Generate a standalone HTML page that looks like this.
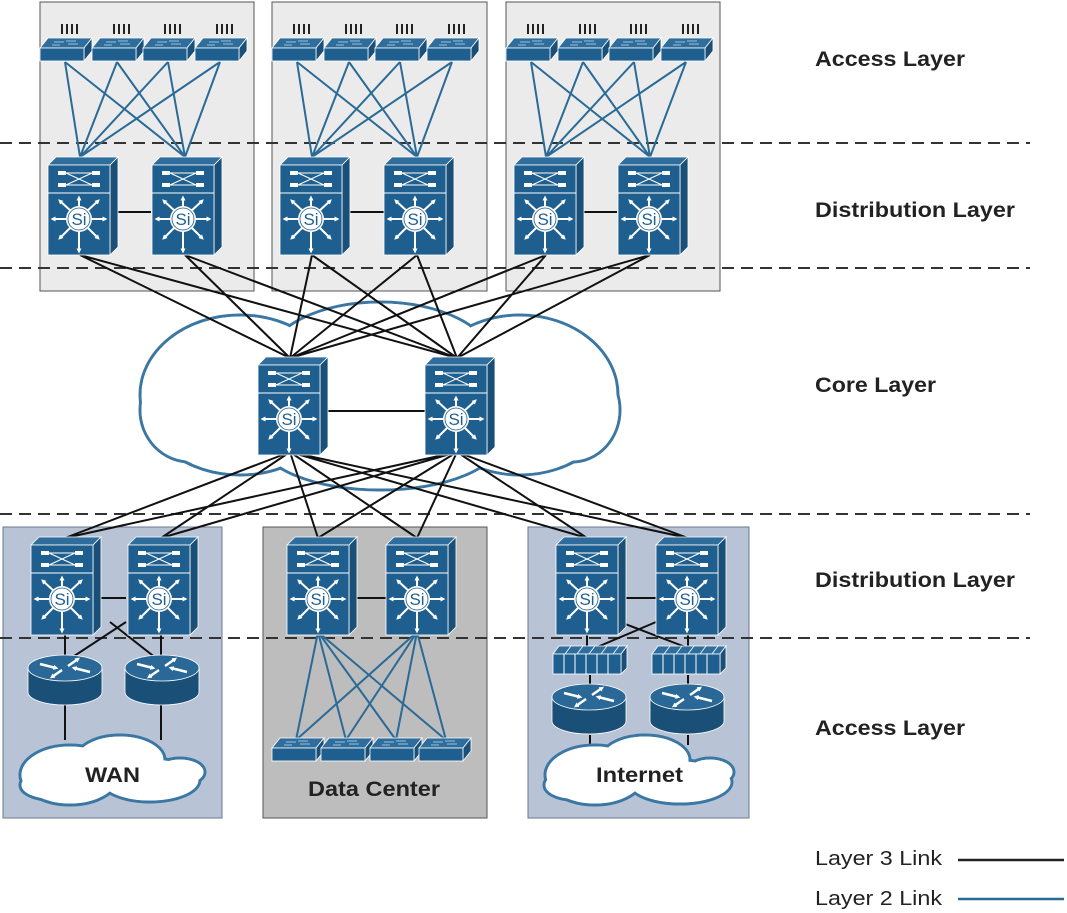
<!DOCTYPE html>
<html><head><meta charset="utf-8"><style>
html,body{margin:0;padding:0;background:#fff;}
svg{display:block;font-family:"Liberation Sans",sans-serif;}
</style></head><body>
<svg width="1067" height="913" viewBox="0 0 1067 913" xmlns="http://www.w3.org/2000/svg">
<defs>
<marker id="ah" markerWidth="5" markerHeight="5" refX="2.5" refY="2.5" orient="auto" markerUnits="userSpaceOnUse"><path d="M0,0 L5,2.5 L0,5z" fill="#fff"/></marker>
<g id="l3">
  <polygon points="0,8 8,0 70,0 62,8" fill="#2f6e9c" stroke="#fff" stroke-width="0.8"/>
  <polygon points="62,8 70,0 70,90 62,98" fill="#1a4f78" stroke="#fff" stroke-width="0.8"/>
  <rect x="0" y="8" width="62" height="90" fill="#1f5f8f" stroke="#fff" stroke-width="0.8"/>
  <line x1="0" y1="36" x2="62" y2="36" stroke="#fff" stroke-width="1"/>
  <rect x="10" y="14" width="8" height="4" fill="#fff"/><rect x="44" y="14" width="8" height="4" fill="#fff"/>
  <rect x="10" y="26" width="8" height="4" fill="#fff"/><rect x="44" y="26" width="8" height="4" fill="#fff"/>
  <line x1="18" y1="16" x2="44" y2="28" stroke="#fff" stroke-width="1"/><line x1="18" y1="28" x2="44" y2="16" stroke="#fff" stroke-width="1"/>
  <line x1="18" y1="16" x2="44" y2="16" stroke="#fff" stroke-width="1"/><line x1="18" y1="28" x2="44" y2="28" stroke="#fff" stroke-width="1"/>
  <g stroke="#fff" stroke-width="2" marker-end="url(#ah)">
    <line x1="31" y1="52" x2="31" y2="41"/><line x1="31" y1="72" x2="31" y2="94"/>
    <line x1="21" y1="62" x2="5" y2="62"/><line x1="41" y1="62" x2="57" y2="62"/>
    <line x1="24" y1="55" x2="12" y2="44"/><line x1="38" y1="55" x2="50" y2="44"/>
    <line x1="24" y1="69" x2="12" y2="81"/><line x1="38" y1="69" x2="50" y2="81"/>
  </g>
  <circle cx="31" cy="62" r="13" fill="#fff"/>
  <circle cx="31" cy="62" r="11" fill="none" stroke="#1f5f8f" stroke-width="0.8"/>
  <text x="31" y="68" font-size="17" text-anchor="middle" fill="#1f5f8f">Si</text>
</g>
<g id="acc">
  <polygon points="0,10 8,0 52,0 44,10" fill="#2f6e9c" stroke="#fff" stroke-width="0.8"/>
  <polygon points="44,10 52,0 52,13 44,23" fill="#1a4f78" stroke="#fff" stroke-width="0.8"/>
  <rect x="0" y="10" width="44" height="13" fill="#1f5f8f" stroke="#fff" stroke-width="0.8"/>
  <path d="M14,4 h10 M28,6 h10 M12,7 h8 M26,3 h10" stroke="#9bc0dc" stroke-width="1"/>
</g>
<g id="ticks" stroke="#222" stroke-width="2">
  <line x1="22" y1="-14" x2="22" y2="-4"/><line x1="27" y1="-14" x2="27" y2="-4"/><line x1="32" y1="-14" x2="32" y2="-4"/><line x1="37" y1="-14" x2="37" y2="-4"/>
</g>
<g id="rtr">
  <path d="M0,13 v24 a37,13 0 0 0 74,0 v-24z" fill="#1a4f78" stroke="#fff" stroke-width="0.8"/>
  <ellipse cx="37" cy="13" rx="37" ry="13" fill="#2a6898" stroke="#fff" stroke-width="0.8"/>
  <g stroke="#fff" stroke-width="2.5" marker-end="url(#ah)">
    <line x1="12" y1="9" x2="28" y2="13"/><line x1="62" y1="17" x2="46" y2="13"/>
    <line x1="40" y1="11" x2="50" y2="4"/><line x1="34" y1="15" x2="24" y2="22"/>
  </g>
</g>
<g id="fw">
  <polygon points="0,8 6,0 74,0 68,8" fill="#2f6e9c" stroke="#fff" stroke-width="0.8"/>
  <polygon points="68,8 74,0 74,22 68,28" fill="#1a4f78" stroke="#fff" stroke-width="0.8"/>
  <rect x="0" y="8" width="68" height="20" fill="#1f5f8f" stroke="#fff" stroke-width="0.8"/>
  <path d="M11,8v20M22,8v20M33,8v20M44,8v20M55,8v20" stroke="#fff" stroke-width="1"/>
  <path d="M18,0l-6,8M30,0l-6,8M42,0l-6,8M54,0l-6,8M66,0l-6,8" stroke="#fff" stroke-width="0.8"/>
</g>
</defs>

<rect x="40" y="2" width="214" height="289" fill="#ebebeb" stroke="#555" stroke-width="1"/>
<rect x="272" y="2" width="215" height="289" fill="#ebebeb" stroke="#555" stroke-width="1"/>
<rect x="506" y="2" width="214" height="289" fill="#ebebeb" stroke="#555" stroke-width="1"/>
<rect x="3" y="527" width="219" height="291" fill="#b8c3d6" stroke="#6a7890" stroke-width="1"/>
<rect x="263" y="527" width="224" height="291" fill="#bdbdbd" stroke="#555" stroke-width="1"/>
<rect x="528" y="527" width="221" height="291" fill="#b8c3d6" stroke="#6a7890" stroke-width="1"/>

<g stroke="#3b77a3" stroke-width="3" fill="#fff">
 <ellipse cx="240" cy="395" rx="100" ry="80"/><ellipse cx="380" cy="360" rx="112" ry="58"/>
 <ellipse cx="520" cy="395" rx="98" ry="80"/><ellipse cx="380" cy="440" rx="120" ry="50"/>
 <ellipse cx="190" cy="410" rx="50" ry="52"/><ellipse cx="572" cy="410" rx="48" ry="52"/>
</g>
<g fill="#fff">
 <ellipse cx="240" cy="395" rx="98.5" ry="78.5"/><ellipse cx="380" cy="360" rx="110.5" ry="56.5"/>
 <ellipse cx="520" cy="395" rx="96.5" ry="78.5"/><ellipse cx="380" cy="440" rx="118.5" ry="48.5"/>
 <ellipse cx="190" cy="410" rx="48.5" ry="50.5"/><ellipse cx="572" cy="410" rx="46.5" ry="50.5"/>
</g>

<g stroke="#333" stroke-width="2" stroke-dasharray="12,7">
 <line x1="0" y1="143" x2="1030" y2="143"/><line x1="0" y1="268" x2="1030" y2="268"/>
 <line x1="0" y1="514" x2="1030" y2="514"/><line x1="0" y1="638" x2="1030" y2="638"/>
</g>

<g stroke="#2a6a96" stroke-width="2">
 <path d="M65,62L80,157M117,62L80,157M168,62L80,157M220,62L80,157M65,62L185,157M117,62L185,157M168,62L185,157M220,62L185,157"/>
 <path d="M297,62L312,157M349,62L312,157M400,62L312,157M452,62L312,157M297,62L417,157M349,62L417,157M400,62L417,157M452,62L417,157"/>
 <path d="M531,62L546,157M583,62L546,157M634,62L546,157M686,62L546,157M531,62L650,157M583,62L650,157M634,62L650,157M686,62L650,157"/>
 <path d="M318,632L296,740M318,632L346,740M318,632L396,740M318,632L446,740M417,632L296,740M417,632L346,740M417,632L396,740M417,632L446,740"/>
</g>

<g stroke="#111" stroke-width="2">
 <path d="M80,255L290,358M80,255L457,358M185,255L290,358M185,255L457,358M312,255L290,358M312,255L457,358M417,255L290,358M417,255L457,358M546,255L290,358M546,255L457,358M650,255L290,358M650,255L457,358"/>
 <path d="M290,452L65,538M290,452L161,538M290,452L318,538M290,452L417,538M290,452L587,538M290,452L688,538M457,452L65,538M457,452L161,538M457,452L318,538M457,452L417,538M457,452L587,538M457,452L688,538"/>
 <path d="M326,411H425"/>
 <path d="M110,212H151M343,212H384M576,212H617"/>
 <path d="M93,598H126M350,598H386M619,598H656"/>
 <path d="M65,632V660M161,632V660M126,622L65,662M110,622L161,662M65,705V740M161,705V740"/>
 <path d="M587,632V650M688,632V650M656,622L595,648M620,622L688,648M590,675V688M688,675V688M590,735V745M688,735V745"/>
</g>

<g>
 <use href="#acc" x="40" y="38"/><use href="#acc" x="92" y="38"/><use href="#acc" x="143" y="38"/><use href="#acc" x="195" y="38"/>
 <use href="#acc" x="272" y="38"/><use href="#acc" x="324" y="38"/><use href="#acc" x="375" y="38"/><use href="#acc" x="427" y="38"/>
 <use href="#acc" x="506" y="38"/><use href="#acc" x="558" y="38"/><use href="#acc" x="609" y="38"/><use href="#acc" x="661" y="38"/>
 <use href="#ticks" x="40" y="38"/><use href="#ticks" x="92" y="38"/><use href="#ticks" x="143" y="38"/><use href="#ticks" x="195" y="38"/>
 <use href="#ticks" x="272" y="38"/><use href="#ticks" x="324" y="38"/><use href="#ticks" x="375" y="38"/><use href="#ticks" x="427" y="38"/>
 <use href="#ticks" x="506" y="38"/><use href="#ticks" x="558" y="38"/><use href="#ticks" x="609" y="38"/><use href="#ticks" x="661" y="38"/>

 <use href="#l3" x="48" y="157"/><use href="#l3" x="152" y="157"/>
 <use href="#l3" x="280" y="157"/><use href="#l3" x="384" y="157"/>
 <use href="#l3" x="514" y="157"/><use href="#l3" x="618" y="157"/>
 <use href="#l3" x="258" y="357"/><use href="#l3" x="425" y="357"/>
 <use href="#l3" x="31" y="537"/><use href="#l3" x="128" y="537"/>
 <use href="#l3" x="287" y="537"/><use href="#l3" x="386" y="537"/>
 <use href="#l3" x="556" y="537"/><use href="#l3" x="656" y="537"/>

 <use href="#acc" x="272" y="738"/><use href="#acc" x="321" y="738"/><use href="#acc" x="370" y="738"/><use href="#acc" x="419" y="738"/>

 <use href="#rtr" x="28" y="655"/><use href="#rtr" x="125" y="655"/>
 <use href="#fw" x="553" y="646"/><use href="#fw" x="652" y="646"/>
 <use href="#rtr" x="552" y="684"/><use href="#rtr" x="650" y="684"/>
</g>

<g stroke="#3b77a3" stroke-width="3" fill="#fff">
 <ellipse cx="70" cy="775" rx="50" ry="30"/><ellipse cx="120" cy="760" rx="45" ry="25"/><ellipse cx="150" cy="780" rx="50" ry="22"/><ellipse cx="50" cy="785" rx="30" ry="15"/><ellipse cx="180" cy="772" rx="25" ry="14"/>
 <ellipse cx="595" cy="775" rx="50" ry="30"/><ellipse cx="645" cy="760" rx="45" ry="25"/><ellipse cx="680" cy="782" rx="52" ry="22"/><ellipse cx="572" cy="785" rx="28" ry="15"/><ellipse cx="710" cy="772" rx="24" ry="14"/>
</g>
<g fill="#fff">
 <ellipse cx="70" cy="775" rx="48.5" ry="28.5"/><ellipse cx="120" cy="760" rx="43.5" ry="23.5"/><ellipse cx="150" cy="780" rx="48.5" ry="20.5"/><ellipse cx="50" cy="785" rx="28.5" ry="13.5"/><ellipse cx="180" cy="772" rx="23.5" ry="12.5"/>
 <ellipse cx="595" cy="775" rx="48.5" ry="28.5"/><ellipse cx="645" cy="760" rx="43.5" ry="23.5"/><ellipse cx="680" cy="782" rx="50.5" ry="20.5"/><ellipse cx="572" cy="785" rx="26.5" ry="13.5"/><ellipse cx="710" cy="772" rx="22.5" ry="12.5"/>
</g>

<g font-weight="bold" fill="#222" font-size="21">
 <text x="85" y="782" textLength="55" lengthAdjust="spacingAndGlyphs">WAN</text>
 <text x="308" y="796" textLength="132" lengthAdjust="spacingAndGlyphs">Data Center</text>
 <text x="596" y="782" textLength="87" lengthAdjust="spacingAndGlyphs">Internet</text>
 <text x="815" y="66" textLength="150" lengthAdjust="spacingAndGlyphs">Access Layer</text>
 <text x="815" y="217" textLength="200" lengthAdjust="spacingAndGlyphs">Distribution Layer</text>
 <text x="815" y="392" textLength="121" lengthAdjust="spacingAndGlyphs">Core Layer</text>
 <text x="815" y="587" textLength="200" lengthAdjust="spacingAndGlyphs">Distribution Layer</text>
 <text x="815" y="735" textLength="150" lengthAdjust="spacingAndGlyphs">Access Layer</text>
</g>
<g fill="#222" font-size="20">
 <text x="815" y="865" textLength="127" lengthAdjust="spacingAndGlyphs">Layer 3 Link</text>
 <text x="815" y="905" textLength="127" lengthAdjust="spacingAndGlyphs">Layer 2 Link</text>
</g>
<line x1="958" y1="860" x2="1064" y2="860" stroke="#222" stroke-width="2.5"/>
<line x1="958" y1="899" x2="1064" y2="899" stroke="#2a6a96" stroke-width="2.5"/>
</svg>
</body></html>
